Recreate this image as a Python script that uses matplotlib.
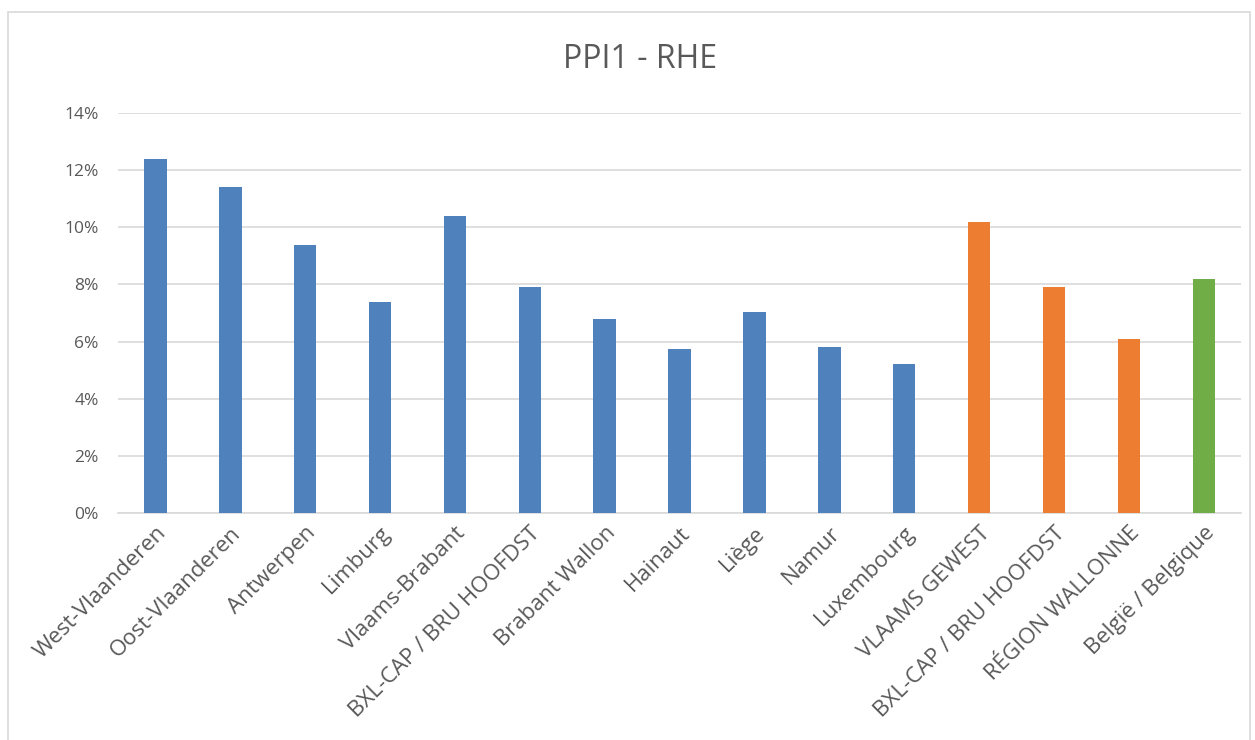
import numpy as np
import matplotlib
matplotlib.use("Agg")
from matplotlib import pyplot as plt
from matplotlib.ticker import PercentFormatter
from matplotlib.patches import Rectangle

# Chart data
categories = ["West-Vlaanderen", "Oost-Vlaanderen", "Antwerpen", "Limburg",
              "Vlaams-Brabant", "BXL-CAP / BRU HOOFDST", "Brabant Wallon",
              "Hainaut", "Liège", "Namur", "Luxembourg", "VLAAMS GEWEST",
              "BXL-CAP / BRU HOOFDST", "RÉGION WALLONNE", "België / Belgique"]
values = [12.4, 11.4, 9.4, 7.4, 10.4, 7.9, 6.8, 5.75, 7.05, 5.8, 5.2,
          10.2, 7.9, 6.1, 8.2]
levels = ["prov"] * 11 + ["region"] * 3 + ["country"]
level_colors = {"prov": "#4F81BD", "region": "#ED7D31", "country": "#70AD47"}
yticks = [0, 2, 4, 6, 8, 10, 12, 14]

plt.rcParams["font.family"] = ["Open Sans", "DejaVu Sans"]
text_col = "#595959"

fig = plt.figure(figsize=(12.55, 7.4), dpi=100)
ax = fig.add_axes([0.094, 0.307, 0.895, 0.54])

x = np.arange(len(categories))
ax.bar(x, values, width=0.3, color=[level_colors[l] for l in levels], zorder=3)

ax.set_ylim(0, 14)
ax.set_xlim(-0.5, len(categories) - 0.5)
ax.set_yticks(yticks)
ax.yaxis.set_major_formatter(PercentFormatter(decimals=0))
ax.grid(axis="y", color="#D9D9D9", linewidth=1.2, zorder=0)
for s in ["top", "right", "left"]:
    ax.spines[s].set_visible(False)
ax.spines["bottom"].set_color("#D9D9D9")
ax.spines["bottom"].set_linewidth(1.2)
ax.tick_params(axis="both", length=0, colors=text_col)
ax.tick_params(axis="y", pad=14, labelsize=12.5)
ax.set_xticks(x)
ax.set_xticklabels(categories, rotation=45, ha="right", rotation_mode="anchor",
                   fontsize=16)
ax.tick_params(axis="x", pad=7)

fig.text(0.51, 0.92, "PPI1 - RHE", ha="center", va="center", fontsize=23,
         color=text_col)

# outer chart border
fig.patches.append(Rectangle((0.006, -0.01), 0.99, 0.994, transform=fig.transFigure,
                             fill=False, edgecolor="#D9D9D9", linewidth=1.2))

fig.savefig("out.png", dpi=100)
